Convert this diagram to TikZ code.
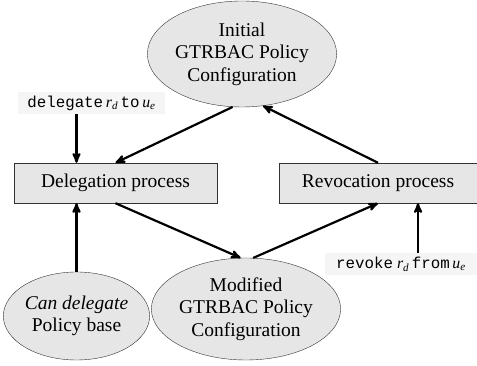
\documentclass[tikz,border=0pt]{standalone}
\usepackage{fontspec}
\setmainfont{Liberation Serif}
\setmonofont{Liberation Mono}
\usetikzlibrary{shapes,positioning,arrows,calc}
\definecolor{nodegray}{RGB}{230,230,230}
\definecolor{labgray}{RGB}{245,245,245}
\tikzset{>=stealth'}
\tikzset{ellnode/.style={draw=black!80,ellipse,fill=nodegray,inner sep=0,align=center,font=\fontsize{19.5}{22.5}\selectfont}}
\tikzset{procbox/.style={draw=black!80,rectangle,fill=nodegray,minimum height=40,inner sep=0,font=\fontsize{19.5}{22.5}\selectfont}}
\tikzset{cmdlab/.style={fill=labgray,minimum height=22,inner sep=0,font=\fontsize{15.8}{18}\selectfont}}
\tikzset{flow/.style={->,line width=2.2pt}}
\newcommand{\drawell}{\node[ellnode]}
\newcommand{\drawbox}{\node[procbox]}
\newcommand{\drawlab}{\node[cmdlab]}
\newcommand{\var}[2]{\textit{#1}\textsubscript{\textit{#2}}}

\begin{document}
\begin{tikzpicture}[x=1pt,y=1pt]
	\useasboundingbox (0,0) rectangle (477,366);

	\drawell[minimum width=160,minimum height=106] (init) at (242,312) {Initial\\GTRBAC Policy\\Configuration};
	\drawbox[minimum width=203] (dele) at (115.5,183) {Delegation process};
	\drawbox[minimum width=198] (revo) at (378,183) {Revocation process};
	\drawell[minimum width=160,minimum height=102] (modi) at (246,57) {Modified\\GTRBAC Policy\\Configuration};
	\drawell[minimum width=113,minimum height=88] (can) at (76.5,50) {\textit{Can delegate}\\Policy base};

	\drawlab[minimum width=147] (dlab) at (91.5,263) {\texttt{delegate}\,\var{r}{d}\,\texttt{to}\,\var{u}{e}};
	\drawlab[minimum width=152] (rlab) at (401,102) {\texttt{revoke}\ \var{r}{d}\,\texttt{from}\,\var{u}{e}};

	\draw[flow] (dlab.south -| can.north) -- (dele.north -| can.north);
	\draw[flow] (init.-100) -- (dele.north);
	\draw[flow] (revo.north) -- (init.-68);
	\draw[flow] (dele.south) -- (modi.96);
	\draw[flow] (modi.82) -- (revo.south);
	\draw[flow] (can.north) -- (dele.south -| can.north);
	\draw[flow] ([xshift=17pt]rlab.north) -- ([xshift=17pt]rlab.north |- revo.south);

\end{tikzpicture}
\end{document}
